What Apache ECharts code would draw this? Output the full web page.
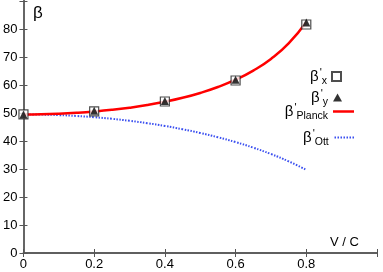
<!DOCTYPE html>
<html><head><meta charset="utf-8">
<script src="https://cdn.jsdelivr.net/npm/echarts@6/dist/echarts.min.js"></script>
<style>html,body{margin:0;padding:0;background:#fff}#c{width:383px;height:272px}</style>
</head><body><div id="c"></div>
<script>
// measured points
const vPoints = [0, 0.2, 0.4, 0.6, 0.8];
const betaX = [49.5, 50.6, 54.1, 61.6, 81.6];
const betaY = [49.5, 50.8, 54.3, 61.9, 82.3];
// curves read at v = 0, 0.05, ... 0.8
const vCurve = [0,0.05,0.1,0.15,0.2,0.25,0.3,0.35,0.4,0.45,0.5,0.55,0.6,0.65,0.7,0.75,0.8];
const betaPlanck = [49.5,49.56,49.75,50.07,50.52,51.12,51.89,52.84,54.01,55.43,57.16,59.27,61.88,65.14,69.31,74.84,82.5];
const betaOtt = [49.5,49.44,49.25,48.94,48.5,47.93,47.22,46.37,45.37,44.2,42.87,41.34,39.6,37.62,35.35,32.74,29.7];
const xTickLabels = ['0','0.2','0.4','0.6','0.8'];
const yTickLabels = ['0','10','20','30','40','50','60','70','80'];

const zip = (a,b)=>a.map((x,i)=>[x,b[i]]);
const FONT = 'Liberation Sans, Arial, sans-serif';
const axisCol = '#555';
const rich = {
  b:{fontSize:15,fontFamily:FONT,color:'#000'},
  p:{fontSize:11,fontFamily:FONT,color:'#000',padding:[0,0,8,1]},
  s:{fontSize:10.5,fontFamily:FONT,color:'#000',padding:[9,0,0,0]}
};
const names = {
  'bx':'{b|β}{p|\'}{s|x}',
  'by':'{b|β}{p|\'}{s|y}',
  'bp':'{b|β}{p|\'}{s|Planck}',
  'bo':'{b|β}{p|\'}{s|Ott}'
};
const dotPath = 'path://' + [0,3,6,9,12,15,18].map(x=>'M'+x+',0h1.5v2h-1.5z').join(' ');
function leg(name, top, right, w, h, icon){
  return {data:[{name:name, icon:icon}], right:right, top:top, align:'right', orient:'vertical',
    itemWidth:w, itemHeight:h, itemGap:5, selectedMode:false,
    formatter:n=>names[n], textStyle:{rich:rich, fontFamily:FONT}};
}
const chart = echarts.init(document.getElementById('c'));
chart.setOption({
  animation:false,
  grid:{left:23,right:6,top:1,bottom:19},
  xAxis:[{type:'value',min:0,max:1,interval:0.2,
    axisLine:{show:true,lineStyle:{color:axisCol,width:1.5}},
    axisTick:{inside:true,length:4,lineStyle:{color:axisCol}},
    splitLine:{show:false},
    axisLabel:{margin:5,fontSize:13,fontFamily:FONT,color:'#000',
      formatter:v=>{const i=Math.round(v/0.2);return i<xTickLabels.length?xTickLabels[i]:'';}}},
   {type:'value',position:'top',min:0,max:1,interval:0.2,
    axisLine:{show:true,lineStyle:{color:axisCol,width:1.5}},
    axisTick:{inside:true,length:4,lineStyle:{color:axisCol}},
    splitLine:{show:false},axisLabel:{show:false}}],
  yAxis:[{type:'value',min:0,max:90,interval:10,
    axisLine:{show:true,lineStyle:{color:'#666',width:2}},
    axisTick:{inside:true,length:4,lineStyle:{color:axisCol}},
    splitLine:{show:false},
    axisLabel:{margin:6,fontSize:13,fontFamily:FONT,color:'#000',
      formatter:v=>{const i=Math.round(v/10);return i<yTickLabels.length?yTickLabels[i]:'';}}},
   {type:'value',position:'right',min:0,max:90,interval:10,
    axisLine:{show:true,lineStyle:{color:'#666',width:2}},
    axisTick:{inside:true,length:4,lineStyle:{color:axisCol}},
    splitLine:{show:false},axisLabel:{show:false}}],
  legend:[leg('bx',62,36,9,9,'rect'),leg('by',83,36,9,8,'triangle'),
          leg('bp',97,24,21,2.5,'rect'),leg('bo',123,24,21,2,dotPath)],
  graphic:[
    {type:'text',left:33,top:5,style:{text:'β',fontSize:17,fontFamily:FONT,fill:'#000'}},
    {type:'text',left:330,top:236,style:{text:'V / C',fontSize:13,fontFamily:FONT,fill:'#000'}}
  ],
  series:[
    {name:'bp',type:'line',data:zip(vCurve,betaPlanck),symbol:'none',smooth:true,
      lineStyle:{color:'#ff0000',width:2.5},itemStyle:{color:'#ff0000'},z:3},
    {name:'bo',type:'line',data:zip(vCurve,betaOtt),symbol:'none',smooth:true,
      lineStyle:{color:'#3a4ff0',width:2,type:[1.5,1.5]},itemStyle:{color:'#3a4ff0'},z:2},
    {name:'bx',type:'scatter',data:zip(vPoints,betaX),symbol:'rect',symbolSize:9,
      itemStyle:{color:'#fff',borderColor:'#222',borderWidth:1.2},z:4},
    {name:'by',type:'scatter',data:zip(vPoints,betaY),symbol:'triangle',symbolSize:8,
      itemStyle:{color:'#000'},z:5}
  ]
});
</script></body></html>
